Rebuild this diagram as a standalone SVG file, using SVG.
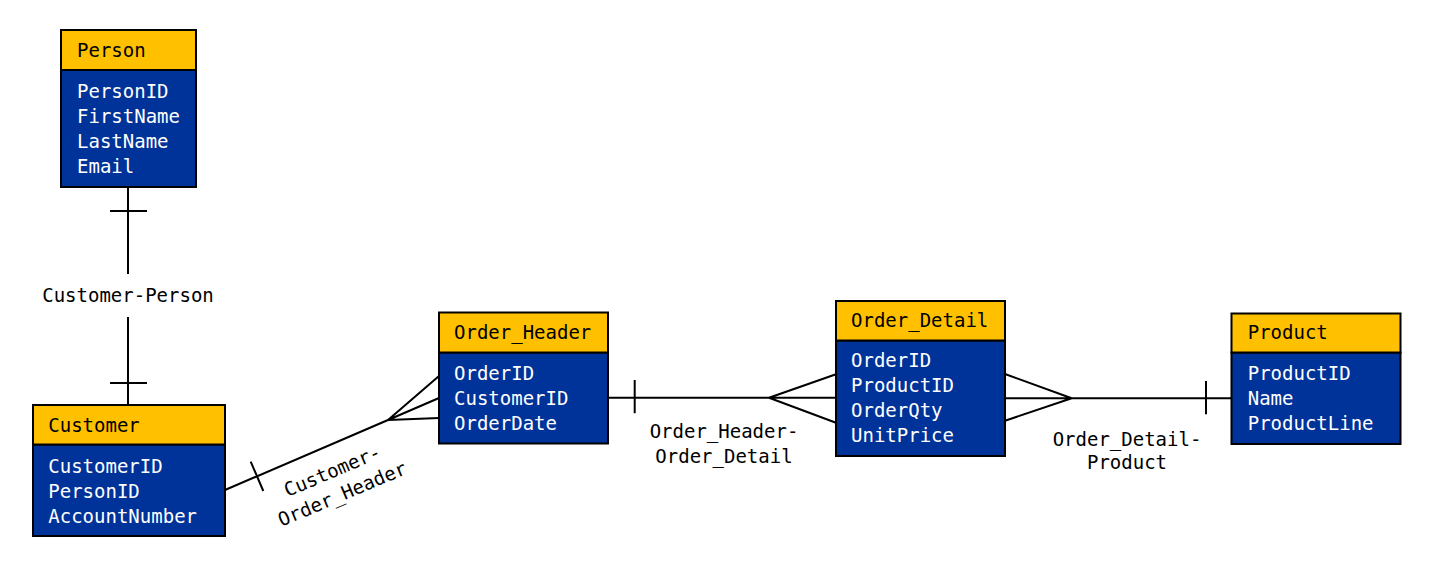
<svg xmlns="http://www.w3.org/2000/svg" width="1431" height="569" viewBox="0 0 1431 569">
<style>
text{font-family:"DejaVu Sans Mono","Liberation Mono",monospace;font-size:19px}
.hd{fill:#FFC000;stroke:#000;stroke-width:2}
.bd{fill:#003399;stroke:#000;stroke-width:2}
.ht{fill:#000}
.bt{fill:#fff}
.ln{stroke:#000;stroke-width:2;fill:none}
.lb{fill:#000;text-anchor:middle}
</style>
<rect width="1431" height="569" fill="#fff"/>
<g id="connectors">
  <path class="ln" d="M128 187V274M110 211H147M128 317V405M110 383H147"/>
  <text class="lb" x="128" y="302">Customer-Person</text>
  <path class="ln" d="M225 490L388 420M250.7 461.6L263.3 491M388 420L439 376M388 420L439 398M388 420L439 418"/>
  <text class="lb" transform="rotate(-23 335 477)" x="335" y="477">Customer-</text>
  <text class="lb" transform="rotate(-23 335 477)" x="335" y="502">Order_Header</text>
  <path class="ln" d="M608 397.7H836M634.7 380V413.3M769 397.7L836 374.3M769 397.7L836 422.7"/>
  <text class="lb" x="724" y="438.3">Order_Header-</text>
  <text class="lb" x="724" y="463.3">Order_Detail</text>
  <path class="ln" d="M1005 398.3H1231M1071.7 398.3L1005 374M1071.7 398.3L1005 420.7M1206 381V414.3"/>
  <text class="lb" x="1127" y="445.7">Order_Detail-</text>
  <text class="lb" x="1127" y="469.3">Product</text>
</g>
<g id="person">
  <rect class="bd" x="61" y="70" width="135" height="117"/>
  <rect class="hd" x="61" y="30" width="135" height="40"/>
  <text class="ht" x="77" y="57">Person</text>
  <text class="bt" x="77" y="98.3">PersonID</text>
  <text class="bt" x="77" y="123.3">FirstName</text>
  <text class="bt" x="77" y="148.3">LastName</text>
  <text class="bt" x="77" y="173.3">Email</text>
</g>
<g id="customer">
  <rect class="bd" x="33" y="444.5" width="192" height="91.5"/>
  <rect class="hd" x="33" y="405" width="192" height="39.5"/>
  <text class="ht" x="48.3" y="431.7">Customer</text>
  <text class="bt" x="48.3" y="472.7">CustomerID</text>
  <text class="bt" x="48.3" y="497.7">PersonID</text>
  <text class="bt" x="48.3" y="522.7">AccountNumber</text>
</g>
<g id="order_header">
  <rect class="bd" x="439" y="352.5" width="169" height="91"/>
  <rect class="hd" x="439" y="312.5" width="169" height="40"/>
  <text class="ht" x="454" y="339">Order_Header</text>
  <text class="bt" x="454" y="380">OrderID</text>
  <text class="bt" x="454" y="405">CustomerID</text>
  <text class="bt" x="454" y="429.5">OrderDate</text>
</g>
<g id="order_detail">
  <rect class="bd" x="836" y="340.5" width="169" height="115.5"/>
  <rect class="hd" x="836" y="301" width="169" height="39.5"/>
  <text class="ht" x="851" y="327.3">Order_Detail</text>
  <text class="bt" x="851" y="366.7">OrderID</text>
  <text class="bt" x="851" y="391.7">ProductID</text>
  <text class="bt" x="851" y="416.7">OrderQty</text>
  <text class="bt" x="851" y="441.7">UnitPrice</text>
</g>
<g id="product">
  <rect class="bd" x="1231.5" y="352.5" width="169" height="91.5"/>
  <rect class="hd" x="1231.5" y="313.5" width="169" height="39"/>
  <text class="ht" x="1247.7" y="339">Product</text>
  <text class="bt" x="1247.7" y="380">ProductID</text>
  <text class="bt" x="1247.7" y="405">Name</text>
  <text class="bt" x="1247.7" y="429.5">ProductLine</text>
</g>
</svg>
